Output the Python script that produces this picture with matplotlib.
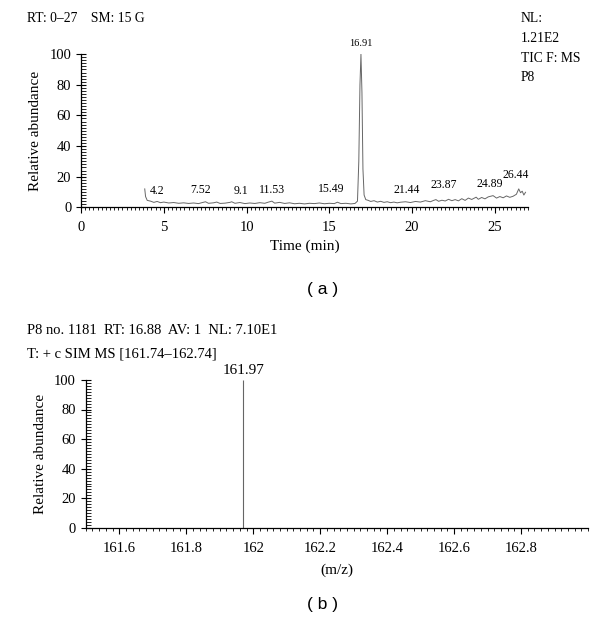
import matplotlib.pyplot as plt
from matplotlib.ticker import MultipleLocator

plt.rcParams['font.family'] = ['Liberation Serif', 'DejaVu Serif']

# Chromatogram (TIC): time in min, relative abundance
time = [3.85, 3.9, 4.0, 4.2, 4.4, 4.6, 4.8, 5.0, 5.3, 5.6, 5.9, 6.2, 6.5, 6.8,
        7.1, 7.3, 7.52, 7.7, 8.0, 8.2, 8.4, 8.7, 9.0, 9.1, 9.3, 9.6, 9.9, 10.2,
        10.5, 10.8, 11.1, 11.3, 11.53, 11.7, 12.0, 12.3, 12.6, 12.9, 13.2, 13.5,
        13.8, 14.1, 14.4, 14.7, 15.0, 15.3, 15.49, 15.7, 16.0, 16.3, 16.55, 16.7,
        16.78, 16.85, 16.91, 16.97, 17.03, 17.1, 17.2, 17.35, 17.5, 17.7, 17.9,
        18.1, 18.3, 18.5, 18.7, 18.9, 19.1, 19.3, 19.6, 19.9, 20.2, 20.5, 20.8,
        21.1, 21.3, 21.44, 21.6, 21.8, 22.0, 22.2, 22.4, 22.6, 22.8, 23.0, 23.2,
        23.4, 23.6, 23.87, 24.0, 24.2, 24.4, 24.6, 24.89, 25.1, 25.3, 25.5, 25.7,
        25.9, 26.1, 26.3, 26.44, 26.55, 26.65, 26.75, 26.85]
abundance = [12, 7, 4.5, 4, 3.2, 3.8, 3, 3.4, 2.8, 3.1, 2.6, 2.9, 2.5, 2.8,
             2.4, 3, 3.6, 2.6, 2.9, 3.4, 2.5, 2.7, 3.2, 3.6, 2.6, 3.1, 2.4, 2.8,
             2.5, 3, 2.6, 3.3, 4, 2.7, 3.2, 2.5, 2.9, 2.3, 2.6, 2.2,
             2.6, 2.4, 2.8, 2.3, 2.6, 2.4, 3.3, 2.4, 2.6, 2.2, 2.5, 4,
             30, 80, 100, 75, 25, 8, 5, 4.5, 3.8, 4.3, 3.4,
             3.9, 3.2, 3.6, 3, 3.4, 2.9, 3.3, 3.6, 3.1, 3.8, 3.4, 4.3,
             3.6, 4.5, 5, 3.9, 4.6, 4.1, 5.2, 4.3, 5, 4.2, 5.6, 4.5,
             6, 5.1, 6.6, 5.2, 6.4, 5.5, 6.8, 7.6, 6, 7, 6.2, 7.4,
             6.5, 7.2, 8.5, 12, 9.5, 10.5, 8, 9.8]

# peak labels and where they sit on the chart
peak_labels = ['4.2', '7.52', '9.1', '11.53', '15.49', '16.91', '21.44', '23.87', '24.89', '26.44']
label_x = [4.6, 7.2, 9.65, 11.55, 15.1, 16.91, 19.7, 21.9, 24.7, 26.25]
label_y = [6.5, 7.2, 6.5, 7.2, 7.8, 104, 7.2, 10.5, 11.2, 17]

# SIM mass spectrum
mz = [161.97]
intensity = [100]

fig = plt.figure(figsize=(6, 6.3), dpi=100)
line_color = '#666666'


def style_axes(ax):
    for side in ['top', 'right']:
        ax.spines[side].set_visible(False)
    ax.spines['left'].set_linewidth(0.9)
    ax.spines['bottom'].set_linewidth(0.9)
    ax.tick_params(axis='y', which='major', direction='inout', length=7, width=0.8, labelsize=10.5)
    ax.tick_params(axis='y', which='minor', direction='in', length=3.5, width=0.6)
    ax.tick_params(axis='x', which='major', direction='out', length=4, width=0.8, labelsize=10.5, pad=6)
    ax.tick_params(axis='x', which='minor', direction='out', length=2, width=0.6)
    ax.set_ylim(0, 100)
    ax.yaxis.set_major_locator(MultipleLocator(20))
    ax.yaxis.set_minor_locator(MultipleLocator(2))
    ax.set_ylabel('Relative abundance', fontsize=11, labelpad=5)


# (a) chromatogram
ax1 = fig.add_axes([0.135, 0.671, 0.745, 0.243])
ax1.plot(time, abundance, color=line_color, linewidth=0.7)
style_axes(ax1)
ax1.set_xlim(0, 27)
ax1.xaxis.set_major_locator(MultipleLocator(5))
ax1.xaxis.set_minor_locator(MultipleLocator(0.25))
ax1.set_xlabel('Time (min)', fontsize=11, labelpad=4)
for lab, x, y in zip(peak_labels, label_x, label_y):
    ax1.text(x, y, lab, fontsize=8.5 if lab != '16.91' else 7.5, ha='center', va='bottom',
             clip_on=False)

fig.text(0.045, 1 - 19 / 630, 'RT: 0\u201327    SM: 15 G', fontsize=9.8, va='center')
for i, line in enumerate(['NL:', '1.21E2', 'TIC F: MS', 'P8']):
    fig.text(0.868, 1 - (19 + i * 19.5) / 630, line, fontsize=9.8, va='center')
fig.text(0.537, 1 - 290 / 630, '( a )', fontsize=12.5, ha='center', va='center',
         family=['Liberation Sans', 'DejaVu Sans'])

# (b) SIM spectrum
ax2 = fig.add_axes([0.143, 0.162, 0.837, 0.235])
ax2.vlines(mz, 0, intensity, color=line_color, linewidth=0.8)
style_axes(ax2)
ax2.set_xlim(161.5, 163.0)
ax2.set_xticks([161.6, 161.8, 162.0, 162.2, 162.4, 162.6, 162.8])
ax2.set_xticklabels(['161.6', '161.8', '162', '162.2', '162.4', '162.6', '162.8'])
ax2.xaxis.set_minor_locator(MultipleLocator(0.02))
ax2.set_xlabel('(m/z)', fontsize=11, labelpad=6)
for x, y in zip(mz, intensity):
    ax2.text(x, y + 2, f'{x:.2f}', fontsize=11, ha='center', va='bottom', clip_on=False)

fig.text(0.045, 1 - 331 / 630, 'P8 no. 1181  RT: 16.88  AV: 1  NL: 7.10E1', fontsize=10.5, va='center')
fig.text(0.045, 1 - 354 / 630, 'T: + c SIM MS [161.74\u2013162.74]', fontsize=10.5, va='center')
fig.text(0.537, 1 - 605 / 630, '( b )', fontsize=12.5, ha='center', va='center',
         family=['Liberation Sans', 'DejaVu Sans'])

fig.savefig('out.png', dpi=100)
